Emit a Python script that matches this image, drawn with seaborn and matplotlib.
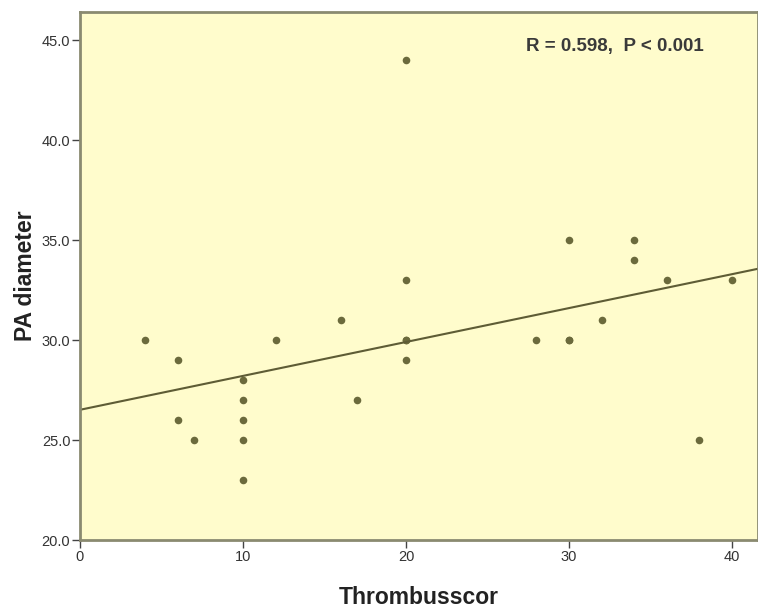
import numpy as np
import pandas as pd
import matplotlib
matplotlib.use("Agg")
import matplotlib.pyplot as plt
import seaborn as sns

# values
thrombus = [4, 6, 6, 7, 10, 10, 10, 10, 10, 12, 16, 17, 20, 20, 20, 20, 20,
            28, 30, 30, 30, 32, 34, 34, 36, 38, 40]
pa_diam = [30, 29, 26, 25, 28, 27, 26, 25, 23, 30, 31, 27, 44, 33, 30, 30, 29,
           30, 35, 30, 30, 31, 35, 34, 33, 25, 33]
x_ticks = [0, 10, 20, 30, 40]
y_ticks = [20, 25, 30, 35, 40, 45]
annot = "R = 0.598,  P < 0.001"

df = pd.DataFrame({"Thrombusscor": thrombus, "PA diameter": pa_diam})

sns.set_style("white")
plt.rcParams["font.family"] = ["Liberation Sans", "DejaVu Sans"]

fig = plt.figure(figsize=(7.58, 6.10), dpi=100)
ax = fig.add_axes([80 / 758, 70 / 610, 678 / 758, 528 / 610])
ax.set_facecolor("#fffccc")
ax.set_xlim(0, 41.6)
ax.set_ylim(20, 46.4)

sns.regplot(data=df, x="Thrombusscor", y="PA diameter", ax=ax, ci=None,
            truncate=False,
            scatter_kws={"s": 30, "color": "#6b6a3c", "linewidths": 0, "alpha": 1},
            line_kws={"color": "#5e5c35", "linewidth": 1.5})

ax.set_xticks(x_ticks)
ax.set_xticklabels([str(t) for t in x_ticks])
ax.set_yticks(y_ticks)
ax.set_yticklabels([f"{t:.1f}" for t in y_ticks])
ax.tick_params(axis="both", length=6, width=1, color="#444444", labelsize=10.5,
               labelcolor="#333333", bottom=True, left=True, pad=1)

for sp in ax.spines.values():
    sp.set_color("#8a8a70")
    sp.set_linewidth(2)

ax.set_xlabel("Thrombusscor", fontsize=16.5, fontweight="bold", color="#222222", labelpad=16)
ax.set_ylabel("PA diameter", fontsize=16.5, fontweight="bold", color="#222222", labelpad=3)

ax.text(0.658, 0.935, annot, transform=ax.transAxes, fontsize=13.5, fontweight="bold",
        color="#3a3a3a", ha="left", va="center")

fig.savefig("out.png", dpi=100)
